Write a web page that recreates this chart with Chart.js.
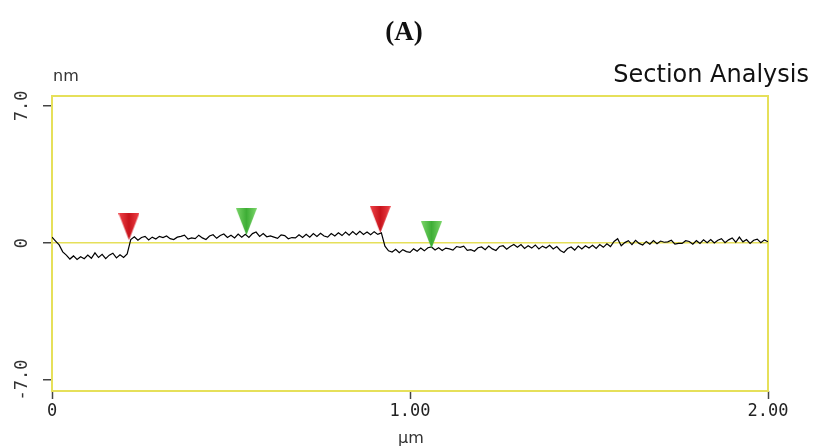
<!DOCTYPE html>
<html>
<head>
<meta charset="utf-8">
<script src="https://cdn.jsdelivr.net/npm/chart.js@4.4.1/dist/chart.umd.min.js"></script>
<style>
  html, body { margin: 0; padding: 0; background: #fff; }
  #wrap { width: 814px; height: 447px; }
</style>
</head>
<body>
<div id="wrap"><canvas id="sectionChart" width="814" height="447"></canvas></div>
<script>
// sampling positions along the section (µm)
const distanceUm = [
  0.00,0.01,0.02,0.03,0.04,0.05,0.06,0.07,0.08,0.09,
  0.10,0.11,0.12,0.13,0.14,0.15,0.16,0.17,0.18,0.19,
  0.20,0.21,0.22,0.23,0.24,0.25,0.26,0.27,0.28,0.29,
  0.30,0.31,0.32,0.33,0.34,0.35,0.36,0.37,0.38,0.39,
  0.40,0.41,0.42,0.43,0.44,0.45,0.46,0.47,0.48,0.49,
  0.50,0.51,0.52,0.53,0.54,0.55,0.56,0.57,0.58,0.59,
  0.60,0.61,0.62,0.63,0.64,0.65,0.66,0.67,0.68,0.69,
  0.70,0.71,0.72,0.73,0.74,0.75,0.76,0.77,0.78,0.79,
  0.80,0.81,0.82,0.83,0.84,0.85,0.86,0.87,0.88,0.89,
  0.90,0.91,0.92,0.93,0.94,0.95,0.96,0.97,0.98,0.99,
  1.00,1.01,1.02,1.03,1.04,1.05,1.06,1.07,1.08,1.09,
  1.10,1.11,1.12,1.13,1.14,1.15,1.16,1.17,1.18,1.19,
  1.20,1.21,1.22,1.23,1.24,1.25,1.26,1.27,1.28,1.29,
  1.30,1.31,1.32,1.33,1.34,1.35,1.36,1.37,1.38,1.39,
  1.40,1.41,1.42,1.43,1.44,1.45,1.46,1.47,1.48,1.49,
  1.50,1.51,1.52,1.53,1.54,1.55,1.56,1.57,1.58,1.59,
  1.60,1.61,1.62,1.63,1.64,1.65,1.66,1.67,1.68,1.69,
  1.70,1.71,1.72,1.73,1.74,1.75,1.76,1.77,1.78,1.79,
  1.80,1.81,1.82,1.83,1.84,1.85,1.86,1.87,1.88,1.89,
  1.90,1.91,1.92,1.93,1.94,1.95,1.96,1.97,1.98,1.99,
  2.00
];

// height profile (nm)
const heightNm = [
  0.30,0.10,-0.10,-0.45,-0.62,-0.82,-0.66,-0.84,-0.70,-0.80,
  -0.62,-0.78,-0.50,-0.74,-0.58,-0.80,-0.62,-0.52,-0.76,-0.60,
  -0.74,-0.56,0.18,0.32,0.14,0.28,0.34,0.16,0.30,0.20,
  0.34,0.28,0.36,0.22,0.18,0.30,0.34,0.40,0.20,0.26,
  0.22,0.40,0.26,0.18,0.36,0.42,0.24,0.38,0.46,0.28,
  0.40,0.26,0.46,0.30,0.44,0.28,0.48,0.56,0.34,0.48,
  0.32,0.36,0.30,0.24,0.42,0.38,0.22,0.28,0.26,0.42,
  0.28,0.44,0.30,0.48,0.34,0.50,0.36,0.30,0.48,0.36,
  0.52,0.38,0.56,0.40,0.58,0.42,0.60,0.44,0.56,0.42,
  0.58,0.44,0.52,-0.16,-0.40,-0.46,-0.32,-0.50,-0.34,-0.44,
  -0.48,-0.30,-0.42,-0.26,-0.40,-0.24,-0.20,-0.36,-0.24,-0.38,
  -0.26,-0.30,-0.36,-0.18,-0.22,-0.16,-0.38,-0.34,-0.42,-0.24,
  -0.20,-0.34,-0.16,-0.30,-0.38,-0.18,-0.14,-0.32,-0.18,-0.08,
  -0.22,-0.08,-0.28,-0.14,-0.26,-0.10,-0.30,-0.16,-0.26,-0.12,
  -0.30,-0.18,-0.38,-0.48,-0.28,-0.20,-0.36,-0.16,-0.30,-0.14,
  -0.26,-0.12,-0.28,-0.08,-0.22,-0.04,-0.18,0.08,0.22,-0.14,
  0.02,0.12,-0.08,0.14,-0.02,-0.10,0.08,-0.06,0.12,-0.04,
  0.10,0.04,0.06,0.14,-0.06,-0.02,-0.02,0.12,0.08,-0.06,
  0.12,-0.02,0.16,0.02,0.18,0.00,0.14,0.22,0.02,0.16,
  0.26,0.04,0.30,0.06,0.18,-0.02,0.14,0.20,0.02,0.16,
  0.06
];

// cursor markers
const redCursorX = [0.215, 0.917];
const redCursorY = [0.15, 0.52];
const greenCursorX = [0.543, 1.06];
const greenCursorY = [0.40, -0.27];

const xTicks = [0, 1, 2];
const yTicks = [-7, 0, 7];

const FRAME = '#e6e05a';
const MONO = '"DejaVu Sans Mono", "Liberation Mono", monospace';
const TITLE_FONT = 'bold 27px "Liberation Serif"';

// downward triangle with tip at canvas centre (so the point sits at the tip)
const makeCursor = (light, dark) => {
    const w = 21, h = 27;
    const c = document.createElement('canvas');
    c.width = w; c.height = h * 2;
    const g = c.getContext('2d');
    const grad = g.createLinearGradient(0, 0, w, 0);
    grad.addColorStop(0, light);
    grad.addColorStop(0.5, dark);
    grad.addColorStop(1, light);
    g.beginPath();
    g.moveTo(0, 0);
    g.lineTo(w, 0);
    g.lineTo(w / 2, h);
    g.closePath();
    g.fillStyle = grad;
    g.fill();
    return c;
};

const zip = (xs, ys) => xs.map((x, i) => ({ x: x, y: ys[i] }));

const decorPlugin = {
    id: 'decor',
    beforeDatasetsDraw(chart) {
        const { ctx, chartArea: a } = chart;
        ctx.save();
        ctx.strokeStyle = FRAME;
        ctx.lineWidth = 2;
        ctx.strokeRect(a.left, a.top, a.right - a.left, a.bottom - a.top);
        ctx.restore();
    },
    afterDraw(chart) {
        const { ctx } = chart;
        const ys = chart.scales.y;
        ctx.save();
        // title
        ctx.fillStyle = '#111';
        ctx.font = TITLE_FONT + ', "Times New Roman", serif';
        ctx.textAlign = 'center';
        ctx.textBaseline = 'alphabetic';
        ctx.fillText('(A)', 404, 40);
        // panel caption
        ctx.font = '24px "DejaVu Sans", Arial, sans-serif';
        ctx.textAlign = 'right';
        ctx.fillText('Section Analysis', 809, 82);
        // units
        ctx.fillStyle = '#333';
        ctx.font = '16px "DejaVu Sans", Arial, sans-serif';
        ctx.textAlign = 'left';
        ctx.fillText('nm', 53, 81);
        ctx.textAlign = 'center';
        ctx.fillText('\u00b5m', 411, 443);
        // rotated y tick labels
        ctx.font = '17px ' + MONO;
        ctx.fillStyle = '#333';
        yTicks.forEach(v => {
            const py = ys.getPixelForValue(v);
            ctx.save();
            ctx.translate(23, py);
            ctx.rotate(-Math.PI / 2);
            ctx.textAlign = 'center';
            ctx.textBaseline = 'middle';
            ctx.fillText(v === 0 ? '0' : v.toFixed(1), 0, 0);
            ctx.restore();
        });
        ctx.restore();
    }
};

const drawChart = () => {
    new Chart(document.getElementById('sectionChart'), {
        type: 'line',
        data: {
            datasets: [
                {
                    label: 'profile',
                    data: zip(distanceUm, heightNm),
                    borderColor: '#000',
                    borderWidth: 1.2,
                    pointRadius: 0,
                    tension: 0,
                    order: 2
                },
                {
                    label: 'red cursors',
                    type: 'scatter',
                    data: zip(redCursorX, redCursorY),
                    pointStyle: makeCursor('#f0444a', '#c8141c'),
                    order: 1
                },
                {
                    label: 'green cursors',
                    type: 'scatter',
                    data: zip(greenCursorX, greenCursorY),
                    pointStyle: makeCursor('#7cd66a', '#3eae36'),
                    order: 1
                }
            ]
        },
        options: {
            responsive: false,
            animation: false,
            layout: { padding: { top: 96, right: 46, left: 0, bottom: 0 } },
            plugins: {
                legend: { display: false },
                tooltip: { enabled: false },
                title: { display: false }
            },
            scales: {
                x: {
                    type: 'linear',
                    min: 0,
                    max: 2,
                    afterFit: s => { s.height = 56; },
                    afterBuildTicks: s => { s.ticks = xTicks.map(v => ({ value: v })); },
                    grid: {
                        drawOnChartArea: false,
                        tickLength: 8,
                        tickColor: '#444',
                        tickWidth: 1.5
                    },
                    border: { display: false },
                    ticks: {
                        color: '#222',
                        font: { family: MONO, size: 17 },
                        padding: 2,
                        maxRotation: 0,
                        callback: v => (v === 0 ? '0' : v.toFixed(2))
                    }
                },
                y: {
                    type: 'linear',
                    min: -7.56,
                    max: 7.51,
                    afterFit: s => { s.width = 52; },
                    afterBuildTicks: s => { s.ticks = yTicks.map(v => ({ value: v })); },
                    grid: {
                        drawOnChartArea: true,
                        color: c => (c.tick && c.tick.value === 0 ? FRAME : 'rgba(0,0,0,0)'),
                        lineWidth: 1.5,
                        tickLength: 9,
                        tickColor: '#444',
                        tickWidth: 1.5
                    },
                    border: { display: false },
                    ticks: { display: false }
                }
            }
        },
        plugins: [decorPlugin]
    });
};

// make sure the local fonts are ready before the canvas text is drawn
Promise.all([
    document.fonts.load(TITLE_FONT),
    document.fonts.load('24px "DejaVu Sans"'),
    document.fonts.load('17px "DejaVu Sans Mono"')
]).catch(() => {}).then(drawChart);
</script>
</body>
</html>
